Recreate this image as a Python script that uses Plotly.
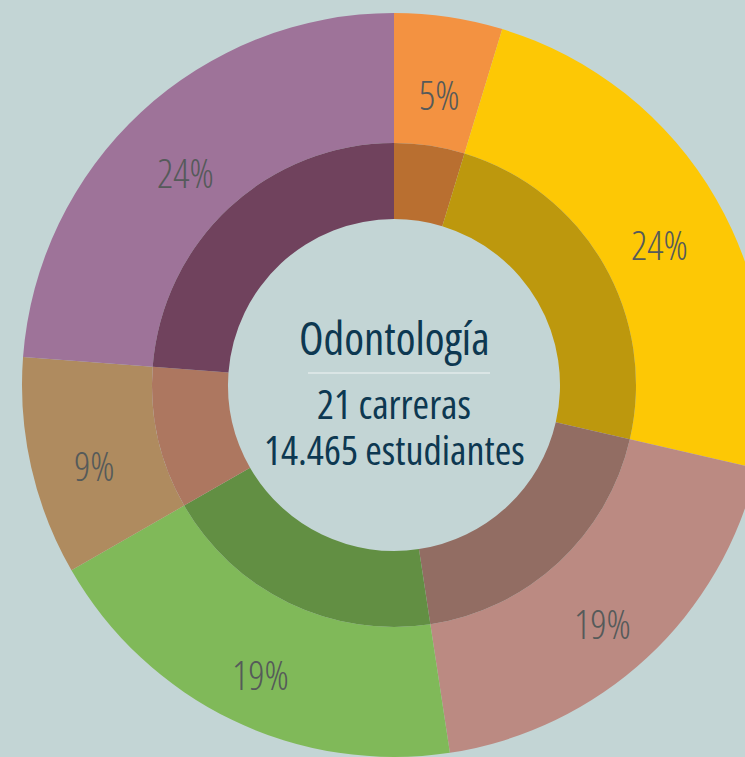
import math
import plotly.graph_objects as go

labels = ["A", "B", "C", "D", "E", "F"]
values = [4.7, 23.9, 19.0, 19.1, 9.5, 23.8]
text_labels = ["5%", "24%", "19%", "19%", "9%", "24%"]
outer_colors = ["#f39241", "#fdc805", "#bb8a82", "#80b959", "#af8b5f", "#9e7399"]
inner_colors = ["#b96f30", "#bd980d", "#926d63", "#628f43", "#ad7760", "#70425d"]
center_title = "Odontología"
center_lines = ["21 carreras", "14.465 estudiantes"]

W, H = 800, 757
cx, cy = 394, 385
R_out, R_mid, R_in = 372, 242, 166
BG = "#c3d5d5"
FONT = "Open Sans"


def cond(t):
    return '<span style="font-stretch:condensed">%s</span>' % t


def dom(r):
    return dict(x=[(cx - r) / W, (cx + r) / W], y=[(H - cy - r) / H, (H - cy + r) / H])


fig = go.Figure()
fig.add_trace(go.Pie(
    labels=labels, values=values, sort=False, direction="clockwise", rotation=0,
    hole=R_mid / R_out, domain=dom(R_out),
    marker=dict(colors=outer_colors, line=dict(width=0)),
    textinfo="none", hoverinfo="skip", showlegend=False,
))
fig.add_trace(go.Pie(
    labels=labels, values=values, sort=False, direction="clockwise", rotation=0,
    hole=R_in / R_mid, domain=dom(R_mid),
    marker=dict(colors=inner_colors, line=dict(width=0)),
    textinfo="none", hoverinfo="skip", showlegend=False,
))

# percentage labels at the middle of each outer slice
total = sum(values)
cum = 0.0
r_lab = (R_mid + R_out) / 2
for v, t in zip(values, text_labels):
    ang = math.radians((cum + v / 2) / total * 360)
    cum += v
    px = cx + r_lab * math.sin(ang)
    py = cy - r_lab * math.cos(ang)
    fig.add_annotation(x=px / W, y=(H - py) / H, xref="paper", yref="paper",
                       xanchor="center", yanchor="middle",
                       text=cond(t), showarrow=False, yshift=-13,
                       font=dict(family=FONT, size=40, weight=300, color="#555a5a"))

fig.add_annotation(x=cx / W, y=(H - 338) / H, xref="paper", yref="paper",
                   xanchor="center", yanchor="middle",
                   text=cond(center_title), showarrow=False,
                   font=dict(family=FONT, size=45, weight=400, color="#0d3851"))
for i, t in enumerate(center_lines):
    fig.add_annotation(x=cx / W, y=(H - 403 - 46 * i) / H, xref="paper", yref="paper",
                       xanchor="center", yanchor="middle",
                       text=cond(t), showarrow=False,
                       font=dict(family=FONT, size=40, weight=400, color="#0d3851"))
fig.add_shape(type="line", xref="paper", yref="paper",
              x0=308 / W, x1=490 / W, y0=(H - 373) / H, y1=(H - 373) / H,
              line=dict(color="#f2f6f6", width=1.2))

fig.update_layout(width=W, height=H, margin=dict(l=0, r=0, t=0, b=0),
                  paper_bgcolor=BG, plot_bgcolor=BG)
fig.write_html("out.html", config={"displayModeBar": False},
               post_script="document.body.style.margin='0';document.body.style.overflow='hidden';"
                           "document.body.style.background='%s';" % BG)
